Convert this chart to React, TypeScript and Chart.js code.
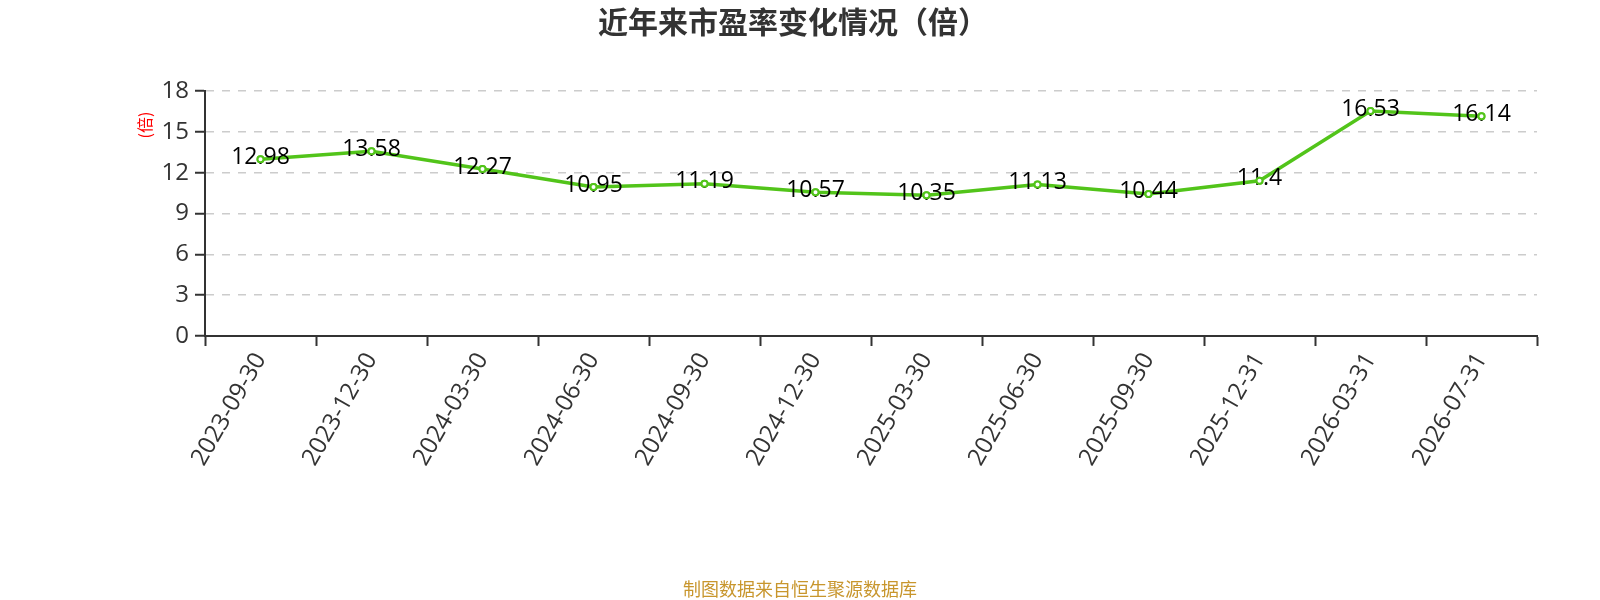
import React, { useEffect, useRef } from 'react';
import Chart from 'chart.js/auto';

// 市盈率（倍）
const categories = [
    '2023-09-30',
    '2023-12-30',
    '2024-03-30',
    '2024-06-30',
    '2024-09-30',
    '2024-12-30',
    '2025-03-30',
    '2025-06-30',
    '2025-09-30',
    '2025-12-31',
    '2026-03-31',
    '2026-07-31',
];
const peValues = [12.98, 13.58, 12.27, 10.95, 11.19, 10.57, 10.35, 11.13, 10.44, 11.4, 16.53, 16.14];
const yTicks = [0, 3, 6, 9, 12, 15, 18];

const titleText = '近年来市盈率变化情况（倍）';
const footerText = '制图数据来自恒生聚源数据库';
const unitText = '(倍)';

const GREEN = '#52c41a';
const AXIS = '#333333';

// labels go on top of the line, points go on top of the labels
const labelsPlugin = {
    id: 'peLabels',
    afterDatasetsDraw(chart: any) {
        const ctx = chart.ctx;
        const meta = chart.getDatasetMeta(0);
        ctx.save();
        ctx.font = '23px "Open Sans"';
        ctx.fillStyle = '#000';
        ctx.textAlign = 'center';
        ctx.textBaseline = 'middle';
        meta.data.forEach((pt: any, i: number) => {
            ctx.fillText(String(peValues[i]), pt.x, pt.y - 2);
        });
        ctx.restore();
        meta.data.forEach((pt: any) => pt.draw(ctx, chart.chartArea));
    },
    afterDraw(chart: any) {
        const ctx = chart.ctx;
        ctx.save();
        ctx.textAlign = 'center';
        ctx.textBaseline = 'middle';
        ctx.fillStyle = AXIS;
        ctx.font = 'bold 30px "Noto Sans CJK SC"';
        ctx.fillText(titleText, 793, 22);
        ctx.fillStyle = '#c8962d';
        ctx.font = '18px "Noto Sans CJK SC"';
        ctx.fillText(footerText, 800, 589);
        ctx.translate(145, 125);
        ctx.rotate(-Math.PI / 2);
        ctx.fillStyle = '#ff0000';
        ctx.font = '16px "Noto Sans CJK SC"';
        ctx.fillText(unitText, 0, 0);
        ctx.restore();
    },
};

const App = () => {
    const chartRef = useRef<HTMLCanvasElement>(null);

    useEffect(() => {
        const chart = new Chart(chartRef.current!, {
            type: 'line',
            data: {
                labels: categories,
                datasets: [{
                    data: peValues,
                    borderColor: GREEN,
                    borderWidth: 3.5,
                    tension: 0,
                    pointRadius: 3,
                    pointBorderWidth: 2,
                    pointBackgroundColor: '#fff',
                    pointBorderColor: GREEN,
                }],
            },
            options: {
                animation: false,
                responsive: false,
                layout: { padding: { top: 91, right: 63, left: 0, bottom: 0 } },
                plugins: {
                    legend: { display: false },
                    title: { display: false },
                    tooltip: { enabled: false },
                },
                scales: {
                    x: {
                        offset: true,
                        grid: {
                            offset: true,
                            drawOnChartArea: false,
                            drawTicks: true,
                            tickLength: 10,
                            tickColor: AXIS,
                            tickWidth: 2,
                        },
                        border: { color: AXIS, width: 2 },
                        ticks: {
                            color: AXIS,
                            font: { family: '"Open Sans"', size: 24 },
                            minRotation: 60,
                            maxRotation: 60,
                            autoSkip: false,
                            padding: 2,
                        },
                        afterFit: (s: any) => { s.height = 264; },
                    },
                    y: {
                        min: yTicks[0],
                        max: yTicks[yTicks.length - 1],
                        grid: {
                            color: (c: any) => (c.tick && c.tick.value === 0 ? 'rgba(0,0,0,0)' : '#cccccc'),
                            lineWidth: 1.5,
                            tickLength: 10,
                            tickColor: AXIS,
                            tickWidth: 2,
                        },
                        border: { color: AXIS, width: 2, dash: [8, 8] },
                        ticks: {
                            stepSize: 3,
                            color: AXIS,
                            font: { family: '"Open Sans"', size: 24 },
                            padding: 6,
                        },
                        afterFit: (s: any) => { s.width = 205; },
                    },
                },
            },
            plugins: [labelsPlugin],
        });

        return () => {
            chart.destroy();
        };
    }, []);

    return (
        <div style={{ position: 'fixed', left: 0, top: 0, width: 1600, height: 600, background: '#fff' }}>
            <canvas ref={chartRef} width={1600} height={600} />
        </div>
    );
};

export default App;
